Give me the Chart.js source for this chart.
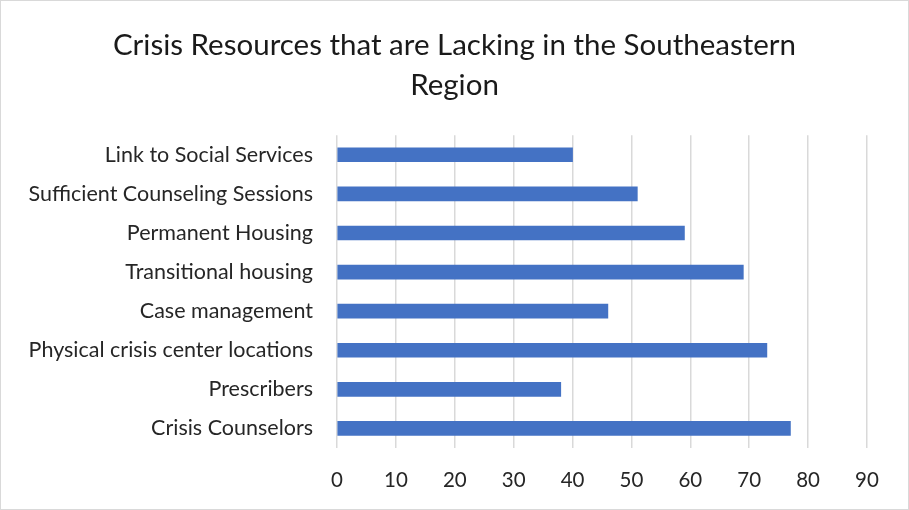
<!DOCTYPE html>
<html>
<head>
<meta charset="utf-8">
<script src="https://cdn.jsdelivr.net/npm/chart.js@4"></script>
<style>
    body { margin: 0; background: #fff; }
    #wrap { position: relative; width: 909px; height: 510px; box-sizing: border-box; border: 1px solid #d9d9d9; }
</style>
</head>
<body>
<div id="wrap"><canvas id="barChart" width="907" height="508"></canvas></div>
<script>
// resources listed top to bottom
const resources = [
    "Link to Social Services",
    "Sufficient Counseling Sessions",
    "Permanent Housing",
    "Transitional housing",
    "Case management",
    "Physical crisis center locations",
    "Prescribers",
    "Crisis Counselors"
];
const responses = [40, 51, 59, 69, 46, 73, 38, 77];
const axisMax = 90;
const axisStep = 10;

const fontFamily = "Lato, 'Open Sans', sans-serif";

const ctx = document.getElementById('barChart').getContext('2d');
new Chart(ctx, {
    type: 'bar',
    data: {
        labels: resources,
        datasets: [{
            label: 'Responses',
            data: responses,
            backgroundColor: '#4472C4',
            barThickness: 14
        }]
    },
    options: {
        indexAxis: 'y',
        responsive: false,
        animation: false,
        layout: { padding: 0 },
        plugins: {
            legend: { display: false },
            tooltip: { enabled: false },
            title: {
                display: true,
                text: ["Crisis Resources that are Lacking in the Southeastern", "Region"],
                color: '#1a1a1a',
                font: { family: fontFamily, size: 29.5, weight: 'normal', lineHeight: 1.36 },
                padding: { top: 24, bottom: 30 }
            }
        },
        scales: {
            x: {
                min: 0,
                max: axisMax,
                ticks: {
                    stepSize: axisStep,
                    color: '#262626',
                    padding: 20,
                    font: { family: fontFamily, size: 20.5 }
                },
                grid: { color: '#d9d9d9', lineWidth: 1.5, drawTicks: false },
                border: { display: false },
                afterFit: scale => { scale.height = 61; }
            },
            y: {
                ticks: {
                    color: '#262626',
                    padding: 24,
                    font: { family: fontFamily, size: 21.5 }
                },
                grid: { display: false, drawTicks: false },
                border: { display: false },
                afterFit: scale => { scale.width = 336; }
            },
            // empty spacer on the right so the title stays centred on the canvas
            yRight: {
                type: 'category',
                position: 'right',
                ticks: { display: false },
                grid: { display: false, drawTicks: false },
                border: { display: false },
                afterFit: scale => { scale.width = 41; }
            }
        }
    }
});
</script>
</body>
</html>
